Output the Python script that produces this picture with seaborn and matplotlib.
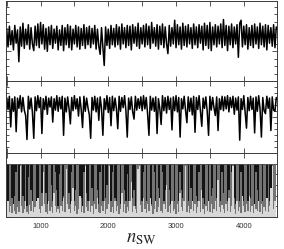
import numpy as np
import pandas as pd
import matplotlib
matplotlib.use("Agg")
import matplotlib.pyplot as plt
from matplotlib.ticker import MultipleLocator, FixedLocator
import seaborn as sns

sns.set_style("ticks")
plt.rcParams["font.family"] = ["Liberation Sans", "DejaVu Sans"]
plt.rcParams["mathtext.fontset"] = "stix"
plt.rcParams["path.simplify"] = False

# sweep index, one sample every 20 sweeps
n_sw = np.arange(500, 4500, 20)

# top panel trace
top_vals = [
    3.1, 0.6, 3.4, 0.9, 2.8, 0.2, 3.5, 1.1, 2.9, -1.4, 3.3, 0.7, 3.8, 0.4, 3.0, 0.9, 3.6, 0.3, 3.2, 1.0,
    0.1, 3.4, 0.8, 3.7, 0.5, 3.9, 1.0, 3.6, 0.3, 3.1, 0.0, 3.3, 0.9, 3.5, 0.4, 3.0, 1.1, 3.4, 0.2, 2.9,
    0.8, 3.5, 0.1, 3.2, 0.9, 3.6, 0.5, 3.4, 0.2, 3.0, 1.0, 3.5, 0.6, 3.3, 0.3, 3.1, 0.8, 3.6, 0.4, 3.2,
    0.9, 3.4, 0.5, 3.1, 1.0, 3.5, 0.3, 3.0, 0.7, -0.4, 3.2, 0.6, -1.9, 3.3, 0.8, 3.0, 0.4, 3.5, 0.9, 3.1,
    0.6, 3.6, 0.9, 3.3, 0.3, 3.7, 1.0, 3.2, 0.5, 3.5, 0.8, 3.4, 0.2, 3.6, 1.1, 3.3, 0.7, 3.8, 0.4, 3.2,
    1.0, 3.5, 0.6, 3.7, 0.9, 3.4, 0.4, 3.9, 1.1, 3.2, 0.7, 3.6, 0.3, 3.4, 0.9, 3.7, 0.5, 3.3, 1.0, -0.3,
    3.5, 0.7, 3.2, 1.0, 4.2, 0.5, 3.6, 0.9, 3.3, 0.3, 3.8, 0.8, 3.4, 0.6, 3.6, 1.0, 3.2, 0.4, 3.7, 0.9,
    3.3, 0.5, 3.6, 1.1, 3.4, 0.2, 3.8, 0.8, 3.5, 0.4, 3.9, 0.1, 3.3, 0.9, 3.6, 0.6, 3.4, 1.0, 3.7, 0.5,
    4.3, 0.8, 3.5, 0.1, 3.4, 0.9, 3.7, 0.5, 3.3, 1.0, 3.6, -0.8, 3.8, 4.2, 0.6, 3.4, 0.9, 3.6, 0.3, 3.2,
    0.8, 3.5, 0.5, 3.7, 1.0, 3.3, 0.4, 3.8, 0.9, 3.4, 0.6, 3.6, 0.2, 3.5, 1.1, 3.2, 0.7, 3.6, 0.5, 3.3,
]

# middle panel trace
mid_vals = [
    3.2, 1.2, 3.4, -1.7, 3.0, 0.9, 3.3, -2.5, 3.1, 1.4, 3.5, 0.8, 3.2, 1.1, 0.2, -3.8, 3.4, 1.3, 3.1, 0.7,
    -3.6, 3.3, 1.0, 3.5, 1.5, 3.2, -2.8, 3.0, 1.2, 3.4, 0.4, 3.1, 1.6, 3.3, -0.9, 3.0, 1.1, 3.5, 0.9, 3.2,
    1.3, 3.4, -3.1, 3.1, 0.8, 3.3, 1.4, -1.2, 3.2, 1.0, 3.5, 1.3, 3.0, 0.1, 3.3, 1.2, -1.8, 3.4, 0.9, 3.1,
    1.5, 0.3, -3.6, 3.2, 1.1, 3.4, 0.8, 3.1, -0.6, 3.3, 1.4, -3.1, 3.0, 1.2, 3.5, 0.7, 3.2, -1.5, 3.4, 1.0,
    3.1, 1.3, -2.0, 3.4, 0.9, 3.2, 1.5, 3.5, 1.0, -3.4, 3.1, 1.2, 3.3, 0.8, -0.4, 3.4, 1.1, 3.0, 1.4, 3.3,
    1.0, 3.5, 1.3, 3.2, 0.5, -3.1, 3.4, 1.1, 3.1, 0.9, 3.3, -2.8, 3.0, 1.4, -1.3, 3.5, 1.0, 3.2, 0.6, 3.4,
    1.2, 3.1, -2.2, 3.3, 1.0, 3.5, 0.8, 3.2, -3.4, 3.0, 1.3, 3.4, 1.1, -1.0, 3.3, 0.9, 3.1, 0.3, 3.4, -2.6,
    3.2, 1.2, 3.5, 0.9, -1.6, 3.1, 1.4, 3.3, 0.9, -3.1, 3.4, 1.1, 3.2, 1.5, 0.2, 3.3, -2.3, 3.0, 1.2, 3.4,
    1.0, 3.3, 1.3, 3.5, 0.8, 3.2, 1.5, 3.4, 0.4, 3.1, 1.1, 3.3, -3.9, 3.0, 1.2, 3.5, 0.7, -1.9, 3.2, 1.0,
    3.4, 1.2, 3.1, -2.7, 3.3, 0.9, 3.5, 1.3, -3.4, 3.2, 1.0, 0.5, 3.4, 1.4, 3.1, -2.3, 3.3, 1.1, 0.9, 3.2,
]

# bottom panel: light layer height and top of the gray layer (black fills up to 1)
light_frac = [
    .15, .3, .1, .2, .08, .25, .12, .05, .18, .1, .95, .2, .08, .15, .3, .1, .06, .22, .12, .4,
    .1, .18, .3, .9, .15, .08, .2, .85, .25, .1, .06, .3, .12, .18, .08, .45, .2, .1, .15, .07,
    .2, .12, .35, .1, .9, .25, .15, .08, .3, .55, .12, .2, .06, .15, .4, .1, .22, .08, .95, .18,
    .12, .3, .1, .2, .06, .25, .15, .35, .1, .08, .2, .12, .3, .05, .15, .25, .95, .1, .18, .08,
    .3, .12, .2, .06, .15, .45, .1, .25, .08, .18, .12, .3, .65, .1, .2, .15, .08, .9, .95, .22,
    .1, .35, .15, .08, .25, .12, .5, .2, .06, .15, .3, .1, .18, .4, .12, .08, .25, .15, .6, .1,
    .2, .08, .3, .12, .15, .06, .25, .1, .45, .18, .12, .3, .95, .1, .2, .08, .15, .35, .12, .25,
    .08, .18, .3, .1, .5, .15, .06, .2, .12, .4, .1, .25, .08, .15, .3, .12, .7, .18, .1, .22,
    .15, .08, .25, .12, .35, .1, .2, .95, .15, .06, .3, .12, .18, .08, .55, .2, .1, .25, .12, .4,
    .1, .2, .08, .3, .15, .12, .45, .1, .25, .06, .18, .12, .35, .1, .2, .6, .95, .15, .3, .12,
]
gray_top = [
    .45, .3, 1, .97, .35, .25, .4, .85, 1, .3, 1, 1, .4, .3, .97, .2, .75, 1, .5, .3,
    .97, 1, .3, .35, 1, .97, .45, 1, 1, .45, .25, 1, .97, .6, .3, .97, .85, .5, .2, .8,
    1, .3, .4, .97, 1, 1, .45, .25, .85, 1, .3, .5, .97, 1, .4, .35, .2, .85, 1, .45,
    .3, .97, 1, .55, .3, 1, 1, .5, .25, .85, .97, .3, 1, .35, .6, .97, 1, .3, .85, 1,
    .35, .3, .97, 1, .25, 1, .97, .5, .3, .8, .3, 1, 1, .35, .5, .2, 1, 1, 1, .97,
    .3, .85, .97, .3, 1, 1, .35, .25, .97, .85, .3, 1, .55, .35, .97, .85, .3, .5, 1, 1,
    .5, .25, .97, 1, .3, 1, .97, .3, .85, .5, .35, 1, 1, .97, .3, .97, .55, .3, 1, 1,
    .4, .3, .85, .97, 1, .35, .25, 1, .97, .3, .97, .4, .55, 1, 1, .35, 1, .97, .3, .85,
    .45, .97, .97, .3, .5, 1, .85, 1, .35, .25, 1, .97, .3, .85, .4, .3, 1, 1, .3, .97,
    .35, 1, .97, .25, .85, .5, .3, 1, .97, .3, .97, 1, .35, 1, .3, .55, 1, 1, 1, .3,
]

x_ticks = [1000, 2000, 3000, 4000]

df = pd.DataFrame({"n_sw": n_sw, "top": top_vals, "mid": mid_vals,
                   "light": light_frac, "gray_top": gray_top})
df["light"] = np.minimum(df["light"], df["gray_top"])
df["one"] = 1.0

fig = plt.figure(figsize=(2.84, 2.49), dpi=100)
ax_top = fig.add_axes([0.0211, 0.6747, 0.9542, 0.3213])
ax_mid = fig.add_axes([0.0211, 0.3855, 0.9542, 0.2892])
ax_bot = fig.add_axes([0.0211, 0.1285, 0.9542, 0.2570])

sns.lineplot(data=df, x="n_sw", y="top", ax=ax_top, color="black", lw=1.1,
             estimator=None, sort=False)
sns.lineplot(data=df, x="n_sw", y="mid", ax=ax_mid, color="black", lw=1.1,
             estimator=None, sort=False)

ax_bot.fill_between(df["n_sw"], 0, df["light"], color="#d8d8d8", lw=0, step="mid")
ax_bot.fill_between(df["n_sw"], df["light"], df["gray_top"], color="#747474",
                    lw=0, step="mid")
ax_bot.fill_between(df["n_sw"], df["gray_top"], df["one"], color="#141414",
                    lw=0, step="mid")
sns.lineplot(data=df, x="n_sw", y="one", ax=ax_bot, color="#555555", lw=0.6,
             estimator=None, sort=False)

ax_top.set_ylim(-4, 6.8)
ax_top.yaxis.set_major_locator(FixedLocator([0]))
ax_top.yaxis.set_minor_locator(MultipleLocator(1))

ax_mid.set_ylim(-6.05, 5.95)
ax_mid.yaxis.set_major_locator(FixedLocator([0]))
ax_mid.yaxis.set_minor_locator(MultipleLocator(1))

ax_bot.set_ylim(0, 1.2)
ax_bot.yaxis.set_major_locator(FixedLocator([0, 0.2, 0.4, 0.6, 0.8, 1.0]))

for ax in (ax_top, ax_mid, ax_bot):
    ax.set_xlim(490, 4490)
    ax.xaxis.set_major_locator(FixedLocator(x_ticks))
    ax.xaxis.set_minor_locator(MultipleLocator(500))
    ax.tick_params(which="both", direction="in", top=True, right=True,
                   colors="#3a3a3a", width=0.6, labelleft=False)
    ax.tick_params(axis="x", which="both", length=3.5)
    ax.tick_params(axis="y", which="major", length=3.5)
    ax.tick_params(axis="y", which="minor", length=2)
    ax.set_ylabel("")
    ax.set_xlabel("")
    for s in ax.spines.values():
        s.set_color("#3a3a3a")
        s.set_linewidth(0.7)

ax_top.tick_params(labelbottom=False)
ax_mid.tick_params(labelbottom=False)
ax_bot.tick_params(axis="x", labelsize=5.5, labelcolor="#333333", pad=4)
ax_bot.set_xlabel(r"$n_{\rm SW}$", fontsize=13.5, labelpad=0)

fig.savefig("out.png", dpi=100)
